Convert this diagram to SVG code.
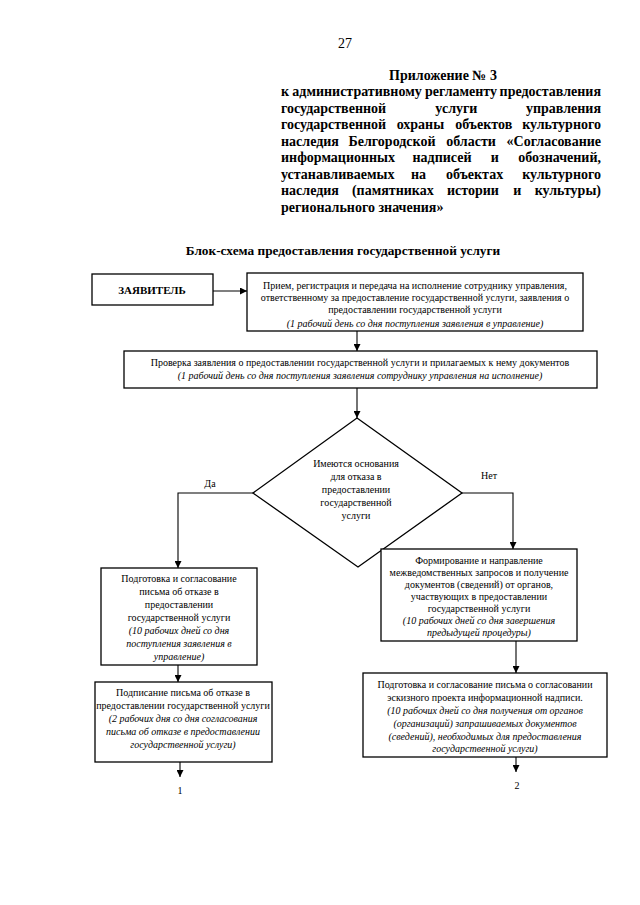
<svg xmlns="http://www.w3.org/2000/svg" width="640" height="905" viewBox="0 0 640 905">
<defs>
<marker id="ah" viewBox="0 0 10 10" refX="10" refY="5" markerWidth="7" markerHeight="7" markerUnits="userSpaceOnUse" orient="auto">
<path d="M0,0 L10,5 L0,10 z" fill="#000"/>
</marker>
<style>
.t{font-family:"Liberation Serif","Times New Roman",serif;fill:#000}
.hd{font-size:14px;font-weight:bold}
.m{text-anchor:middle}
.e{text-anchor:end}
.bx{fill:#fff;stroke:#000;stroke-width:1.3}
.n{font-size:10px;text-anchor:middle}
.i{font-style:italic}
.c{fill:none;stroke:#000;stroke-width:1.1}
</style>
</defs>
<rect width="640" height="905" fill="#fff"/>
<text class="t" x="345" y="48" font-size="14" text-anchor="middle">27</text>
<g class="t hd">
<text x="443" y="80" class="m">Приложение № 3</text>
<text x="281" y="96">к</text><text x="357" y="96" class="m">административному</text><text x="461" y="96" class="m">регламенту</text><text x="601" y="96" class="e">предоставления</text>
<text x="281" y="112.5">государственной</text><text x="456.4" y="112.5" class="m">услуги</text><text x="601" y="112.5" class="e">управления</text>
<text x="281" y="129">государственной</text><text x="420.4" y="129" class="m">охраны</text><text x="483.7" y="129" class="m">объектов</text><text x="601" y="129" class="e">культурного</text>
<text x="281" y="145.5">наследия</text><text x="392" y="145.5" class="m">Белгородской</text><text x="471" y="145.5" class="m">области</text><text x="601" y="145.5" class="e">«Согласование</text>
<text x="281" y="162">информационных</text><text x="442" y="162" class="m">надписей</text><text x="494.8" y="162" class="m">и</text><text x="601" y="162" class="e">обозначений,</text>
<text x="281" y="178.5">устанавливаемых</text><text x="418.5" y="178.5" class="m">на</text><text x="474.6" y="178.5" class="m">объектах</text><text x="601" y="178.5" class="e">культурного</text>
<text x="281" y="195">наследия</text><text x="392.8" y="195" class="m">(памятниках</text><text x="472.9" y="195" class="m">истории</text><text x="517.2" y="195" class="m">и</text><text x="601" y="195" class="e">культуры)</text>
<text x="281" y="211.5">регионального значения»</text>
</g>
<text class="t" x="343" y="255" font-size="13.3" font-weight="bold" text-anchor="middle">Блок-схема предоставления государственной услуги</text>

<g id="connectors">
<line class="c" x1="213" y1="291" x2="247" y2="291" marker-end="url(#ah)"/>
<line class="c" x1="357" y1="331" x2="357" y2="351" marker-end="url(#ah)"/>
<line class="c" x1="357" y1="388" x2="357" y2="418" marker-end="url(#ah)"/>
<polyline class="c" points="253,493 178,493 178,568" marker-end="url(#ah)"/>
<polyline class="c" points="462,493 513,493 513,549" marker-end="url(#ah)"/>
<line class="c" x1="178" y1="665" x2="178" y2="682" marker-end="url(#ah)"/>
<line class="c" x1="180" y1="762" x2="180" y2="777" marker-end="url(#ah)"/>
<line class="c" x1="516" y1="641" x2="516" y2="673" marker-end="url(#ah)"/>
<line class="c" x1="516" y1="757" x2="516" y2="772" marker-end="url(#ah)"/>
<text class="t n" x="210" y="487">Да</text>
<text class="t n" x="489" y="479">Нет</text>
<text class="t n" x="180" y="794">1</text>
<text class="t n" x="517" y="789">2</text>
</g>

<g id="applicant">
<rect class="bx" x="92" y="274" width="121" height="31"/>
<text class="t" x="152" y="294" font-size="11" font-weight="bold" text-anchor="middle">ЗАЯВИТЕЛЬ</text>
</g>

<g id="reception">
<rect class="bx" x="247" y="273" width="336" height="58"/>
<text class="t n" x="415" y="289">Прием, регистрация и передача на исполнение сотруднику управления,</text>
<text class="t n" x="415" y="301">ответственному за предоставление государственной услуги, заявления о</text>
<text class="t n" x="415" y="313">предоставлении государственной услуги</text>
<text class="t n i" x="415" y="327">(1 рабочий день со дня поступления заявления в управление)</text>
</g>

<g id="check">
<rect class="bx" x="124" y="351" width="473" height="37"/>
<text class="t n" x="360" y="366">Проверка заявления о предоставлении государственной услуги и прилагаемых к нему документов</text>
<text class="t n i" x="360" y="379">(1 рабочий день со дня поступления заявления сотруднику управления на исполнение)</text>
</g>

<g id="decision">
<polygon class="bx" points="357,418 462,493 358,567 253,493"/>
<text class="t n" x="356" y="467">Имеются основания</text>
<text class="t n" x="356" y="480">для отказа в</text>
<text class="t n" x="356" y="493">предоставлении</text>
<text class="t n" x="356" y="506">государственной</text>
<text class="t n" x="356" y="519">услуги</text>
</g>

<g id="refusal-prep">
<rect class="bx" x="101" y="568" width="156" height="97"/>
<text class="t n" x="179" y="582">Подготовка и согласование</text>
<text class="t n" x="179" y="595">письма об отказе в</text>
<text class="t n" x="179" y="608">предоставлении</text>
<text class="t n" x="179" y="621">государственной услуги</text>
<text class="t n i" x="179" y="634">(10 рабочих дней со дня</text>
<text class="t n i" x="179" y="647">поступления заявления в</text>
<text class="t n i" x="179" y="660">управление)</text>
</g>

<g id="refusal-sign">
<rect class="bx" x="95" y="682" width="177" height="80"/>
<text class="t n" x="183" y="696">Подписание письма об отказе в</text>
<text class="t n" x="183" y="709">предоставлении государственной услуги</text>
<text class="t n i" x="183" y="722">(2 рабочих дня со дня согласования</text>
<text class="t n i" x="183" y="735">письма об отказе в предоставлении</text>
<text class="t n i" x="183" y="748">государственной услуги)</text>
</g>

<g id="requests">
<rect class="bx" x="381" y="549" width="196" height="92"/>
<text class="t n" x="479" y="564">Формирование и направление</text>
<text class="t n" x="479" y="576">межведомственных запросов и получение</text>
<text class="t n" x="479" y="588">документов (сведений) от органов,</text>
<text class="t n" x="479" y="600">участвующих в предоставлении</text>
<text class="t n" x="479" y="612">государственной услуги</text>
<text class="t n i" x="479" y="624">(10 рабочих дней со дня завершения</text>
<text class="t n i" x="479" y="636">предыдущей процедуры)</text>
</g>

<g id="approval">
<rect class="bx" x="363" y="673" width="244" height="84"/>
<text class="t n" x="485" y="688">Подготовка и согласование письма о согласовании</text>
<text class="t n" x="485" y="701">эскизного проекта информационной надписи.</text>
<text class="t n i" x="485" y="714">(10 рабочих дней со дня получения от органов</text>
<text class="t n i" x="485" y="727">(организаций) запрашиваемых документов</text>
<text class="t n i" x="485" y="740">(сведений), необходимых для предоставления</text>
<text class="t n i" x="485" y="752">государственной услуги)</text>
</g>
</svg>
